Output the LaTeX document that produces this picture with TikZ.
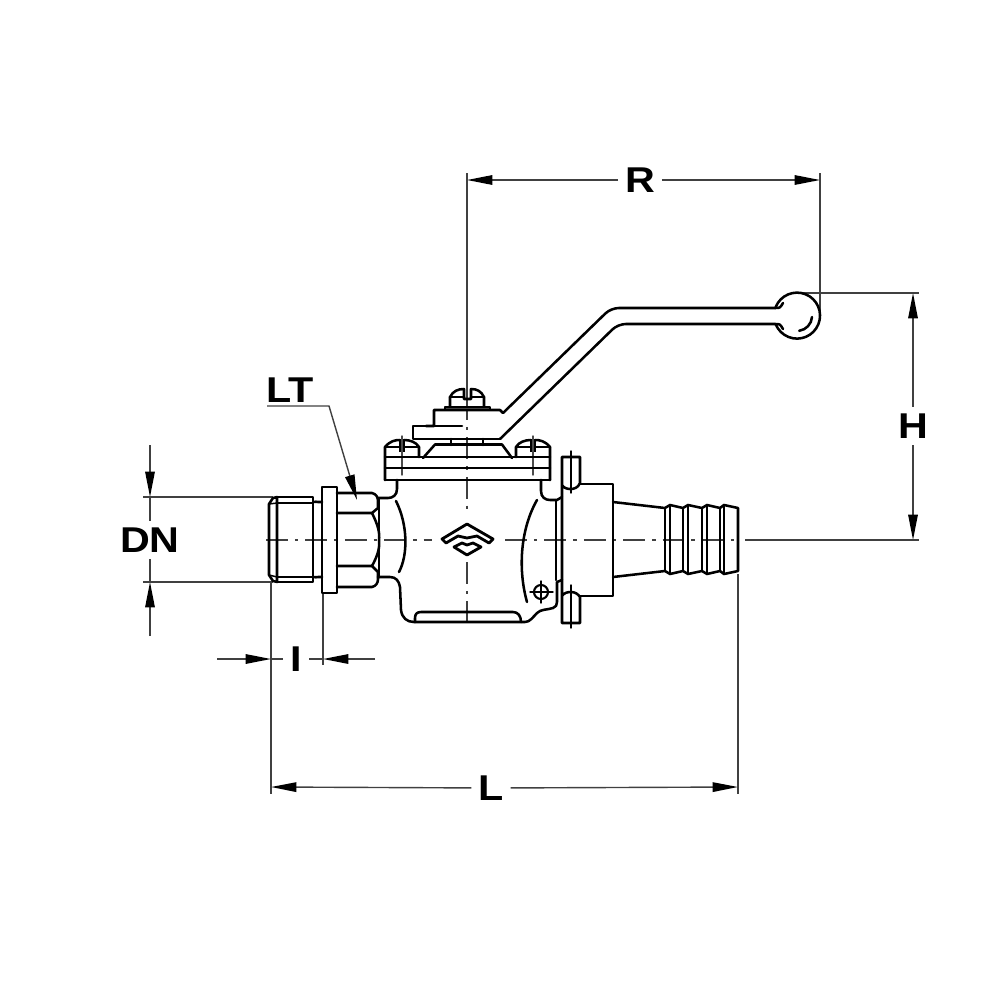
\documentclass[tikz,border=0pt]{standalone}
\usepackage{xcolor}
\usepackage{fontspec}
\setmainfont{Liberation Sans}[FakeStretch=1.15]
\usetikzlibrary{arrows.meta}

\begin{document}
\begin{tikzpicture}[x=0.01cm,y=-0.01cm]
	\tikzstyle{part}=[line width=0.72pt,line join=round,line cap=round]
	\tikzstyle{thin part}=[line width=0.42pt,line cap=round]
	\tikzstyle{axis}=[line width=0.42pt,dash pattern=on 6.2pt off 2pt on 1pt off 2pt,color=black!75]
	\tikzstyle{dim}=[line width=0.4pt,color=black!75]
	\tikzstyle{label}=[font=\fontsize{10.2}{12}\selectfont\bfseries,inner sep=1.8pt]
	\tikzset{edge/.style = {dim,-{Stealth[length=7.2pt,width=2.7pt,inset=0pt,color=black]}}}

	\useasboundingbox (0,0) rectangle (1000,1000);

	% labels
	\node[label](R) at (640,180) {R};
	\node[label](H) at (913,426) {H};
	\node[label](LT) at (290,390) {LT};
	\node[label](DN) at (150,540) {DN};
	\node[label](I) at (296,659) {I};
	\node[label](L) at (491,788) {L};

	% ends of the dimension lines
	\coordinate (rleft) at (467,180);
	\coordinate (rright) at (820,180);
	\coordinate (htop) at (913,293);
	\coordinate (hbottom) at (913,540);
	\coordinate (dntop) at (150,497);
	\coordinate (dnbottom) at (150,582);
	\coordinate (dnup) at (150,445);
	\coordinate (dndown) at (150,636);
	\coordinate (ileft) at (271,659);
	\coordinate (iright) at (323,659);
	\coordinate (ifar) at (217,659);
	\coordinate (ifarr) at (375,659);
	\coordinate (lleft) at (271,787);
	\coordinate (lright) at (738,787);
	\coordinate (ltstart) at (267,406);
	\coordinate (ltbend) at (329,406);
	\coordinate (lttip) at (357,500);

	\draw[edge] (R) to (rleft);
	\draw[edge] (R) to (rright);
	\draw[edge] (H) to (htop);
	\draw[edge] (H) to (hbottom);
	\draw[edge] (dnup) to (dntop);
	\draw[edge] (dndown) to (dnbottom);
	\draw[dim] (dntop) to (DN);
	\draw[dim] (dnbottom) to (DN);
	\draw[edge] (ifar) to (ileft);
	\draw[edge] (ifarr) to (iright);
	\draw[dim] (ileft) to (I);
	\draw[dim] (iright) to (I);
	\draw[edge] (L) to (lleft);
	\draw[edge] (L) to (lright);
	\draw[edge] (ltstart) -- (ltbend) -- (lttip);

	% extension lines
	\draw[dim] (467,173) -- (467,398);
	\draw[dim] (820,173) -- (820,316);
	\draw[dim] (792,293) -- (919,293);
	\draw[dim] (745,540) -- (919,540);
	\draw[dim] (143,497) -- (273,497);
	\draw[dim] (143,582) -- (273,582);
	\draw[dim] (271,582) -- (271,794);
	\draw[dim] (323,593) -- (323,665);
	\draw[dim] (738,574) -- (738,794);

	% centre lines
	\draw[axis] (266,540) -- (432,540);
	\draw[axis] (505,540) -- (740,540);
	\draw[axis] (467,398) -- (467,516);
	\draw[axis] (467,562) -- (467,626);

	% handle
	\draw[part,rounded corners=2.2pt] (503,413) -- (611,308) -- (775,308);
	\draw[part,rounded corners=2.2pt] (500,439) -- (618,324) -- (775,324);
	\draw[part] (775.7,307) arc[start angle=202,end angle=518,radius=23];
	\draw[part] (775,308) .. controls (780,308) .. (783,303);
	\draw[part] (775,324) .. controls (780,324) .. (783,329);
	\draw[part] (812,317) arc[start angle=4,end angle=82,radius=15];

	% top nut
	\draw[part] (450,407) -- (450,397) .. controls (453,391) and (458,389) .. (464,389) -- (464,399) -- (471,399) -- (471,389) .. controls (477,389) and (481,391) .. (484,397) -- (484,407);
	\draw[part] (450,397) -- (464,397) (471,397) -- (484,397);
	\draw[part,fill=black!60] (445,407) rectangle (490,410);
	\draw[part] (426,426) -- (434,426) -- (434,410) -- (500,410) -- (503,413);
	\draw[part] (462,426) -- (413,426) -- (413,439) -- (500,439);
	\draw[part] (451,439) -- (451,445) (483,439) -- (483,445);
	\draw[part] (423,458) -- (435,444.5) -- (502,444.5) -- (512,458);

	% flange with its two screws
	\draw[part] (385,480) -- (385,447) .. controls (390,441) and (395,440) .. (400,440) (404,440) .. controls (410,440) and (416,442) .. (419,447) -- (419,457);
	\draw[part] (516,457) -- (516,447) .. controls (519,442) and (525,440) .. (531,440) (535,440) .. controls (540,440) and (545,441) .. (550,447) -- (550,480);
	\draw[thin part,fill=black!30] (400,440) rectangle (404,451);
	\draw[thin part,fill=black!30] (531,440) rectangle (535,451);
	\draw[part] (385,447) -- (400,447) (404,447) -- (419,447) (516,447) -- (531,447) (535,447) -- (550,447);
	\draw[thin part,color=black!70] (402,436) -- (402,475);
	\draw[thin part,color=black!70] (533,436) -- (533,475);
	\draw[part] (385,457) -- (550,457);
	\draw[part] (385,468) -- (550,468);
	\draw[part] (385,480) -- (550,480);

	% body
	\draw[part] (397,480) -- (397,489) .. controls (397,495) and (393,498) .. (388,498) -- (378,498);
	\draw[part] (541,480) -- (541,491) .. controls (541,497) and (545,500) .. (550,500) -- (557,500) -- (562,497);
	\draw[part] (379,499) -- (379,577);
	\draw[part] (378,577) -- (390,577) .. controls (396,577) and (399,581) .. (400,587) -- (401,610) .. controls (402,618) and (407,622) .. (414,622) -- (525,622) .. controls (530,622) and (533,617) .. (537,613) .. controls (541,609) and (547,610) .. (553,608) .. controls (556,607) and (557,605) .. (557,602) -- (557,582) -- (562,580);
	\draw[part] (556,500) -- (556,580);
	\draw[part] (415,622) -- (415,618) .. controls (415,614) and (417,612) .. (421,612) -- (513,612) .. controls (518,612) and (521,616) .. (521,622);
	\draw[part] (396,501) .. controls (408,525) and (408,555) .. (399,572);
	\draw[part] (537,500) .. controls (520,530) and (518,570) .. (527,602);

	% mark on the body
	\draw[part,line width=0.8pt] (442,539) -- (467,524) -- (493,539) -- (489,543) -- (477,536) -- (467,538) -- (458,536) -- (446,543) -- cycle;
	\draw[part,line width=0.8pt] (454,547) -- (462,543) -- (467,545) -- (473,543) -- (481,547) -- (467,555) -- cycle;

	% small plug
	\draw[thin part,line width=0.6pt] (541,592) circle (7);
	\draw[thin part] (530,592) -- (553,592) (541,581) -- (541,603);

	% left thread
	\draw[part] (322,502) .. controls (318,503) and (318,501) .. (313,502);
	\draw[part] (322,577) .. controls (318,576) and (318,578) .. (313,577);
	\draw[part] (277,497) -- (313,497) -- (313,582) -- (277,582);
	\draw[part] (277,497) -- (273,498) -- (269,504) -- (269,575) -- (273,581) -- (277,582) -- cycle;
	\draw[thin part] (277,503) -- (313,503);
	\draw[thin part] (277,577) -- (313,577);
	\draw[thin part] (269,504) -- (277,503) (269,575) -- (277,577);

	% collar and hexagon
	\draw[part] (322,487) rectangle (337,593);
	\draw[part] (337,493) -- (372,493) .. controls (376,494) and (378,497) .. (378,501) -- (378,508) -- (372,513) -- (337,513);
	\draw[part] (337,587) -- (372,587) .. controls (376,586) and (378,583) .. (378,579) -- (378,572) -- (372,566) -- (337,566);
	\draw[part] (372,513) .. controls (378,525) and (380,533) .. (379,540) .. controls (380,547) and (378,555) .. (372,566);

	% right coupling
	\draw[part] (580,484) -- (613,484) -- (613,596) -- (580,596);
	\draw[part] (562,485) -- (562,457) -- (580,457) -- (580,483) .. controls (578,488) and (574,489) .. (570,489) .. controls (566,489) and (563,487) .. (562,485) -- (562,596) .. controls (564,593) and (567,592) .. (571,592) .. controls (575,592) and (578,594) .. (580,597) -- (580,623) -- (562,623) -- (562,596);
	\draw[thin part] (571,451) -- (571,493);
	\draw[thin part] (571,585) -- (571,628);

	% hose tail
	\draw[part] (613,502) -- (665,508) -- (670,505) -- (683,508) -- (688,505) -- (702,508) -- (707,505) -- (720,508) -- (724,505) -- (738,508) -- (738,571) -- (724,574) -- (720,571) -- (707,574) -- (702,571) -- (688,574) -- (683,571) -- (670,574) -- (665,571) -- (613,577);
	\draw[part] (665,508) -- (665,571);
	\draw[part] (670,505) -- (670,574);
	\draw[part] (683,508) -- (683,571);
	\draw[part] (688,505) -- (688,574);
	\draw[part] (702,508) -- (702,571);
	\draw[part] (707,505) -- (707,574);
	\draw[part] (720,508) -- (720,571);
	\draw[part] (724,505) -- (724,574);
\end{tikzpicture}
\end{document}
